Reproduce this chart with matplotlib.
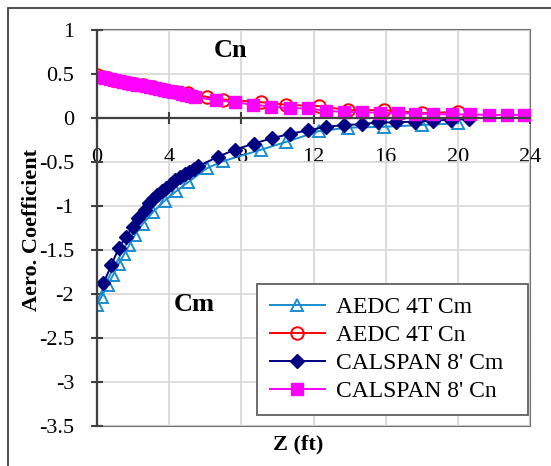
import matplotlib
matplotlib.use("Agg")
import matplotlib.pyplot as plt
from matplotlib.patches import Rectangle
from matplotlib.ticker import FuncFormatter, MultipleLocator

# AEDC 4T run (same stations for Cm and Cn)
aedc_z = [0.0, 0.25, 0.6, 0.9, 1.2, 1.5, 1.8, 2.1, 2.55, 3.1, 3.75, 4.4, 5.05,
          6.1, 7.0, 9.1, 10.5, 12.3, 13.9, 15.9, 18.0, 20.0]
aedc_cm = [-2.12, -2.03, -1.90, -1.78, -1.66, -1.55, -1.44, -1.33, -1.20, -1.07,
           -0.94, -0.83, -0.73, -0.57, -0.49, -0.36, -0.27, -0.15, -0.11,
           -0.10, -0.08, -0.06]
aedc_cn = [0.49, 0.47, 0.45, 0.43, 0.42, 0.41, 0.40, 0.39, 0.37, 0.35, 0.32, 0.30,
           0.28, 0.24, 0.21, 0.18, 0.15, 0.135, 0.09, 0.09, 0.055, 0.07]

# CALSPAN 8' run
calspan_cm_z = [0.35, 0.8, 1.2, 1.6, 2.0, 2.3, 2.65, 2.9, 3.1, 3.35, 3.6, 3.85,
                4.1, 4.35, 4.6, 4.85, 5.1, 5.35, 5.6, 6.7, 7.65, 8.7, 9.7, 10.7,
                11.7, 12.7, 13.7, 14.7, 15.6, 16.6, 17.6, 18.6, 19.6, 20.6]
calspan_cm = [-1.88, -1.67, -1.48, -1.35, -1.24, -1.14, -1.04, -0.97, -0.92, -0.87,
              -0.83, -0.79, -0.75, -0.71, -0.67, -0.64, -0.61, -0.58, -0.55, -0.44,
              -0.36, -0.29, -0.23, -0.18, -0.14, -0.10, -0.08, -0.07, -0.05, -0.05,
              -0.04, -0.03, -0.02, -0.01]
calspan_cn_z = [0.2, 0.45, 0.7, 0.95, 1.2, 1.45, 1.7, 1.95, 2.2, 2.45, 2.7, 2.95,
                3.2, 3.45, 3.7, 3.95, 4.2, 4.45, 4.7, 4.95, 5.2, 5.45, 6.6, 7.65,
                8.65, 9.65, 10.7, 11.7, 12.7, 13.7, 14.7, 15.7, 16.7, 17.65, 18.65,
                19.65, 20.7, 21.7, 22.7, 23.65]
calspan_cn = [0.47, 0.455, 0.44, 0.43, 0.42, 0.41, 0.40, 0.39, 0.38, 0.37, 0.36,
              0.35, 0.34, 0.33, 0.32, 0.31, 0.30, 0.29, 0.27, 0.26, 0.25, 0.24,
              0.20, 0.18, 0.15, 0.13, 0.11, 0.11, 0.08, 0.07, 0.065, 0.06, 0.055,
              0.05, 0.045, 0.04, 0.04, 0.035, 0.035, 0.035]

labels = ["AEDC 4T Cm", "AEDC 4T Cn", "CALSPAN 8' Cm", "CALSPAN 8' Cn"]
colors = ["#1a8ccf", "#ff0000", "#000080", "#ff00ff"]

plt.rcParams["font.family"] = ["Liberation Serif", "DejaVu Serif"]
plt.rcParams["axes.unicode_minus"] = False

fig = plt.figure(figsize=(5.51, 4.66), dpi=100)
ax = fig.add_axes([97 / 551, 1 - 426 / 466, 433 / 551, 396 / 466])

ax.plot(aedc_z, aedc_cm, color=colors[0], lw=1.4, marker="^", ms=9,
        mfc="none", mec=colors[0], mew=1.4, label=labels[0])
ax.plot(aedc_z, aedc_cn, color=colors[1], lw=1.4, marker="o", ms=9,
        mfc="none", mec=colors[1], mew=1.4, label=labels[1])
ax.plot(calspan_cm_z, calspan_cm, color=colors[2], lw=1.4, marker="D", ms=7.5,
        mfc=colors[2], mec=colors[2], label=labels[2])
ax.plot(calspan_cn_z, calspan_cn, color=colors[3], lw=1.4, marker="s", ms=8.5,
        mfc=colors[3], mec=colors[3], label=labels[3])

ax.set_xlim(0, 24)
ax.set_ylim(-3.5, 1)
ax.xaxis.set_major_locator(MultipleLocator(4))
ax.yaxis.set_major_locator(MultipleLocator(0.5))
ax.yaxis.set_major_formatter(FuncFormatter(lambda v, _: f"{v:g}"))
ax.grid(color="#d9d9d9", lw=1.3)
ax.set_axisbelow(True)

ax.spines["bottom"].set_position(("data", 0))
ax.spines["top"].set_visible(False)
ax.spines["right"].set_visible(False)
for side in ("left", "bottom"):
    ax.spines[side].set_color("#404040")
    ax.spines[side].set_linewidth(1.6)
ax.patch.set_edgecolor("#707070")
ax.patch.set_linewidth(1.5)

ax.tick_params(axis="both", direction="inout", length=9, width=1.5,
               color="#404040", labelsize=16)
ax.tick_params(axis="x", pad=17)
ax.tick_params(axis="y", pad=12)

ax.set_xlabel("Z (ft)", fontsize=16, fontweight="bold")
ax.xaxis.set_label_coords(0.464, -0.022)
ax.set_ylabel("Aero. Coefficient", fontsize=16, fontweight="bold")
ax.yaxis.set_label_coords(-0.128, 0.495)

ax.text(7.4, 0.77, "Cn", fontsize=19, fontweight="bold", ha="center", va="center")
ax.text(5.4, -2.12, "Cm", fontsize=19, fontweight="bold", ha="center", va="center")

leg = ax.legend(loc="lower left", bbox_to_anchor=(0.37, 0.028, 0.625, 0.336),
                mode="expand", fontsize=17, fancybox=False, framealpha=1,
                edgecolor="#606060", handlelength=2.3, handletextpad=0.5,
                labelspacing=0.27, borderpad=0.55, borderaxespad=0)
leg.get_frame().set_linewidth(1.3)

fig.patches.append(Rectangle((8 / 551, -0.1), 1.2, 1.1 - 8 / 466,
                             transform=fig.transFigure, fill=False,
                             edgecolor="#404040", lw=1.3))

fig.savefig("out.png", dpi=100)
